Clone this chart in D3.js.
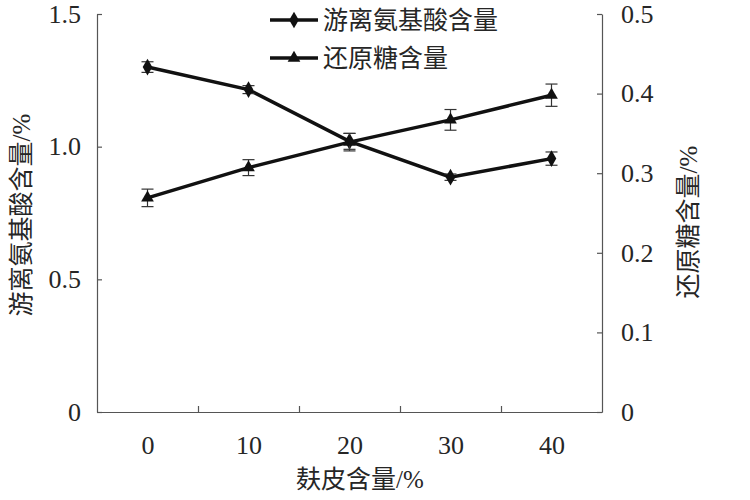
<!DOCTYPE html>
<html>
<head>
<meta charset="utf-8">
<script src="https://cdn.jsdelivr.net/npm/d3@7"></script>
<style>
  html, body { margin: 0; padding: 0; background: #fff; }
  svg { display: block; }
</style>
</head>
<body>
<svg id="chart" width="750" height="500"></svg>
<script>
// bran content (%)
const bran = [0, 10, 20, 30, 40];
// free amino acid content (%), left axis
const aminoAcid = [1.30, 1.215, 1.02, 0.885, 0.955];
const aminoErr = [0.02, 0.015, 0.03, 0.012, 0.025];
// reducing sugar content (%), right axis
const sugar = [0.269, 0.307, 0.339, 0.367, 0.398];
const sugarErr = [0.011, 0.01, 0.011, 0.013, 0.014];

const leftTicks = [0, 0.5, 1.0, 1.5];
const rightTicks = [0, 0.1, 0.2, 0.3, 0.4, 0.5];
const legendNames = ["游离氨基酸含量", "还原糖含量"];

const font = "'Liberation Serif', 'Noto Sans CJK SC', serif";
const ink = "#262626";
const axisInk = "#555";

const svg = d3.select("#chart")
  .attr("font-family", font);

const x = d3.scaleLinear().domain([-5, 45]).range([97, 602]);
const yL = d3.scaleLinear().domain([0, 1.5]).range([412, 14]);
const yR = d3.scaleLinear().domain([0, 0.5]).range([412, 14]);

// axes
svg.append("g").attr("transform", `translate(0,${yL(0)})`)
  .call(d3.axisBottom(x).tickValues([5, 15, 25, 35]).tickSize(-6).tickSizeOuter(0).tickFormat(""));
const bottomLabels = svg.append("g").attr("transform", `translate(0,${yL(0)})`)
  .call(d3.axisBottom(x).tickValues(bran).tickSize(0).tickPadding(24).tickFormat(d3.format("d")));
bottomLabels.select(".domain").remove();

svg.append("g").attr("transform", `translate(${x(-5)},0)`)
  .call(d3.axisLeft(yL).tickValues(leftTicks).tickSize(-5).tickSizeOuter(0).tickPadding(16)
    .tickFormat(d => d === 0 ? "0" : d3.format(".1f")(d)));
svg.append("g").attr("transform", `translate(${x(45)},0)`)
  .call(d3.axisRight(yR).tickValues(rightTicks).tickSize(-5).tickSizeOuter(0).tickPadding(19)
    .tickFormat(d => d === 0 ? "0" : d3.format(".1f")(d)));

svg.selectAll(".domain").attr("stroke", axisInk).attr("stroke-width", 1.2);
svg.selectAll(".tick line").attr("stroke", axisInk).attr("stroke-width", 1.2);
svg.selectAll(".tick text")
  .attr("font-family", font)
  .attr("font-size", 26)
  .attr("fill", ink);

// axis titles
svg.append("text")
  .attr("transform", `translate(360,488)`)
  .attr("text-anchor", "middle")
  .attr("font-size", 25)
  .attr("fill", ink)
  .text("麸皮含量/%");

svg.append("text")
  .attr("transform", `translate(30,215) rotate(-90)`)
  .attr("text-anchor", "middle")
  .attr("font-size", 25)
  .attr("fill", ink)
  .text("游离氨基酸含量/%");

svg.append("text")
  .attr("transform", `translate(697,222) rotate(-90)`)
  .attr("text-anchor", "middle")
  .attr("font-size", 25)
  .attr("fill", ink)
  .text("还原糖含量/%");

// series
const diamond = d3.symbol().type(d3.symbolDiamond).size(80);
const triangle = d3.symbol().type(d3.symbolTriangle).size(70);

function drawSeries(vals, errs, y, sym) {
  const pts = bran.map((b, i) => ({ b, v: vals[i], e: errs[i] }));
  const g = svg.append("g");
  g.append("path")
    .datum(pts)
    .attr("fill", "none")
    .attr("stroke", "#111")
    .attr("stroke-width", 3.5)
    .attr("d", d3.line().x(d => x(d.b)).y(d => y(d.v)));
  const eb = g.selectAll(".err").data(pts).join("g").attr("stroke", "#333").attr("stroke-width", 1.2);
  eb.append("line")
    .attr("x1", d => x(d.b)).attr("x2", d => x(d.b))
    .attr("y1", d => y(d.v - d.e)).attr("y2", d => y(d.v + d.e));
  [1, -1].forEach(s => {
    eb.append("line")
      .attr("x1", d => x(d.b) - 6).attr("x2", d => x(d.b) + 6)
      .attr("y1", d => y(d.v + s * d.e)).attr("y2", d => y(d.v + s * d.e));
  });
  g.selectAll(".mk").data(pts).join("path")
    .attr("transform", d => `translate(${x(d.b)},${y(d.v)})`)
    .attr("d", sym)
    .attr("fill", "#111");
}

drawSeries(aminoAcid, aminoErr, yL, diamond);
drawSeries(sugar, sugarErr, yR, triangle);

// legend
const legend = svg.append("g").attr("transform", "translate(270,20)");
const legendSyms = [diamond, triangle];
legendNames.forEach((name, i) => {
  const row = legend.append("g").attr("transform", `translate(0,${i * 38})`);
  row.append("line").attr("x1", 0).attr("x2", 48).attr("y1", 0).attr("y2", 0)
    .attr("stroke", "#111").attr("stroke-width", 3.5);
  row.append("path").attr("transform", "translate(24,0)").attr("d", legendSyms[i]).attr("fill", "#111");
  row.append("text").attr("x", 53).attr("y", 0).attr("dy", "0.35em")
    .attr("font-size", 25).attr("fill", ink).text(name);
});
</script>
</body>
</html>
